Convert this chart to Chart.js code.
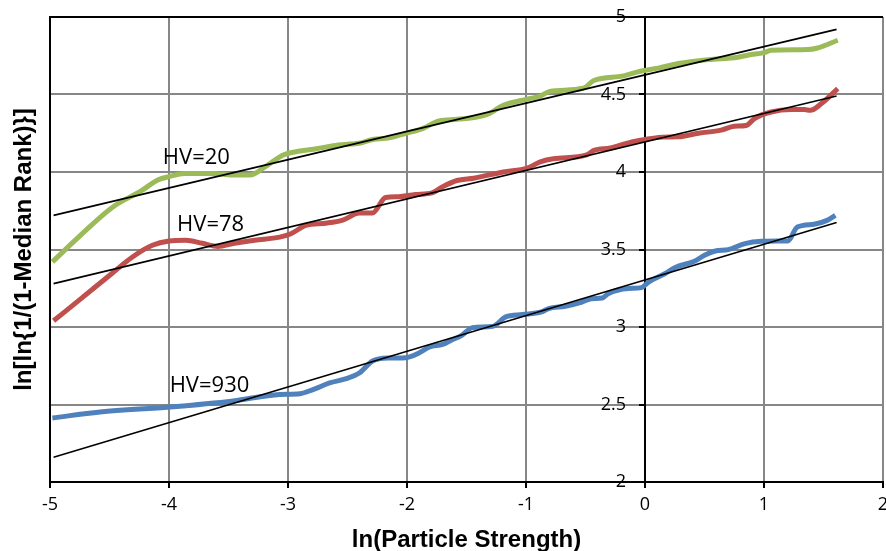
<!DOCTYPE html>
<html>
<head>
<meta charset="utf-8">
<script src="https://cdn.jsdelivr.net/npm/chart.js@4.4.1/dist/chart.umd.min.js"></script>
<style>
  html, body { margin: 0; padding: 0; background: #fff; }
  #wrap { width: 886px; height: 551px; }
</style>
</head>
<body>
<div id="wrap"><canvas id="weibull"></canvas></div>
<script>
// AXIS TICKS
const xTicks = [-5, -4, -3, -2, -1, 0, 1, 2];
const yTicks = [2, 2.5, 3, 3.5, 4, 4.5, 5];
const yTickLabels = ['2', '2.5', '3', '3.5', '4', '4.5', '5'];

// HV=20 (GREEN)
const greenX = [-4.98, -4.76, -4.48, -4.23, -4.09, -4.0, -3.87, -3.64, -3.47, -3.32, -3.18, -3.04, -2.90, -2.76, -2.62, -2.48, -2.40, -2.29, -2.15, -2.01, -1.87, -1.73, -1.58, -1.33, -1.19, -0.99, -0.88, -0.80, -0.52, -0.43, -0.18, -0.04, 0.11, 0.28, 0.53, 0.78, 0.87, 1.00, 1.06, 1.37, 1.45, 1.62];
const greenY = [3.42, 3.58, 3.77, 3.88, 3.95, 3.97, 3.99, 3.99, 3.98, 3.98, 4.04, 4.11, 4.135, 4.15, 4.17, 4.18, 4.185, 4.21, 4.22, 4.25, 4.28, 4.33, 4.34, 4.37, 4.43, 4.47, 4.49, 4.52, 4.54, 4.59, 4.62, 4.65, 4.67, 4.70, 4.725, 4.74, 4.755, 4.77, 4.785, 4.79, 4.80, 4.85];

// HV=78 (RED)
const redX = [-4.97, -4.76, -4.48, -4.31, -4.14, -4.0, -3.86, -3.72, -3.59, -3.45, -3.28, -3.07, -2.98, -2.85, -2.68, -2.54, -2.40, -2.29, -2.18, -2.07, -1.93, -1.79, -1.70, -1.58, -1.44, -1.19, -0.99, -0.88, -0.77, -0.49, -0.43, -0.29, -0.18, -0.04, 0.15, 0.28, 0.45, 0.64, 0.75, 0.85, 0.92, 1.06, 1.23, 1.34, 1.39, 1.48, 1.62];
const redY = [3.04, 3.17, 3.345, 3.45, 3.527, 3.555, 3.56, 3.54, 3.52, 3.54, 3.56, 3.58, 3.60, 3.655, 3.67, 3.69, 3.735, 3.735, 3.835, 3.84, 3.855, 3.865, 3.905, 3.945, 3.96, 4.0, 4.025, 4.065, 4.085, 4.11, 4.14, 4.155, 4.18, 4.205, 4.225, 4.227, 4.25, 4.27, 4.295, 4.30, 4.345, 4.387, 4.403, 4.403, 4.398, 4.44, 4.538];

// HV=930 (BLUE)
const blueX = [-4.98, -4.58, -3.99, -3.46, -3.07, -2.90, -2.79, -2.65, -2.51, -2.40, -2.29, -2.15, -2.01, -1.90, -1.81, -1.70, -1.62, -1.54, -1.45, -1.28, -1.17, -1.03, -0.87, -0.81, -0.67, -0.53, -0.45, -0.36, -0.31, -0.14, -0.03, 0.03, 0.17, 0.25, 0.42, 0.50, 0.59, 0.70, 0.84, 0.98, 1.12, 1.20, 1.28, 1.42, 1.53, 1.60];
const blueY = [2.413, 2.452, 2.484, 2.523, 2.565, 2.57, 2.596, 2.639, 2.667, 2.703, 2.781, 2.80, 2.802, 2.832, 2.871, 2.888, 2.918, 2.946, 2.996, 3.004, 3.065, 3.08, 3.097, 3.119, 3.134, 3.161, 3.183, 3.187, 3.215, 3.248, 3.254, 3.29, 3.345, 3.383, 3.426, 3.463, 3.49, 3.499, 3.538, 3.553, 3.555, 3.555, 3.645, 3.663, 3.688, 3.72];

// LINEAR FITS
const fitX = [-4.97, 1.61];
const fitGreen = [3.72, 4.92];
const fitRed = [3.28, 4.49];
const fitBlue = [2.16, 3.674];

// CURVE LABELS
const labelText = ['HV=20', 'HV=78', 'HV=930'];
const labelX = [-3.77, -3.65, -3.66];
const labelY = [4.095, 3.663, 2.624];

const xTitle = 'ln(Particle Strength)';
const yTitle = 'ln[ln{1/(1-Median Rank)}]';

const pts = (xs, ys) => xs.map((x, i) => ({ x: x, y: ys[i] }));

function curve(label, xs, ys, color) {
  return {
    label: label,
    data: pts(xs, ys),
    showLine: true,
    borderColor: color,
    borderWidth: 5,
    pointRadius: 0,
    cubicInterpolationMode: 'monotone',
    order: 2,
  };
}

function fitLine(label, ys) {
  return {
    label: label,
    data: pts(fitX, ys),
    showLine: true,
    borderColor: '#000',
    borderWidth: 1.6,
    pointRadius: 0,
    order: 1,
  };
}

// FRAME, Y TICK LABELS, CURVE LABELS AND AXIS TITLES
const extras = {
  id: 'extras',
  beforeDatasetsDraw(chart) {
    const { ctx, chartArea: a } = chart;
    ctx.save();
    ctx.strokeStyle = '#000';
    ctx.lineWidth = 2;
    ctx.beginPath();
    ctx.moveTo(a.left, a.bottom);
    ctx.lineTo(a.left, a.top);
    ctx.lineTo(a.right, a.top);
    ctx.stroke();
    ctx.restore();
  },
  afterDraw(chart) {
    const { ctx, chartArea: a, scales } = chart;
    ctx.save();
    ctx.fillStyle = '#000';

    // y tick labels sit left of the y axis, which crosses at x = 0
    ctx.font = '18px "Open Sans"';
    ctx.textAlign = 'right';
    ctx.textBaseline = 'middle';
    const axisX = scales.x.getPixelForValue(0);
    yTicks.forEach((v, i) => {
      ctx.fillText(yTickLabels[i], axisX - 19, scales.y.getPixelForValue(v));
    });

    ctx.font = '22px "Open Sans"';
    ctx.textAlign = 'center';
    labelText.forEach((t, i) => {
      ctx.fillText(t, scales.x.getPixelForValue(labelX[i]), scales.y.getPixelForValue(labelY[i]));
    });

    ctx.font = 'bold 24px "Liberation Sans"';
    ctx.fillText(xTitle, (a.left + a.right) / 2, 540);
    ctx.translate(24, (a.top + a.bottom) / 2);
    ctx.rotate(-Math.PI / 2);
    ctx.fillText(yTitle, 0, 0);
    ctx.restore();
  },
};

const tickFont = { family: '"Open Sans"', size: 18 };

new Chart(document.getElementById('weibull'), {
  type: 'scatter',
  data: {
    datasets: [
      curve('HV=20', greenX, greenY, '#9BBB59'),
      curve('HV=78', redX, redY, '#C0504D'),
      curve('HV=930', blueX, blueY, '#4F81BD'),
      fitLine('Fit HV=20', fitGreen),
      fitLine('Fit HV=78', fitRed),
      fitLine('Fit HV=930', fitBlue),
    ],
  },
  options: {
    responsive: true,
    maintainAspectRatio: false,
    animation: false,
    layout: { padding: { left: 50, top: 17, right: 3, bottom: 0 } },
    plugins: {
      legend: { display: false },
      tooltip: { enabled: false },
    },
    scales: {
      x: {
        type: 'linear',
        min: -5,
        max: 2,
        afterBuildTicks: (s) => { s.ticks = xTicks.map((v) => ({ value: v })); },
        afterFit: (s) => { s.height = 69; s.paddingRight = 0; s.paddingLeft = 0; },
        ticks: { font: tickFont, color: '#000', padding: 6 },
        grid: { color: '#878787', lineWidth: 2, tickColor: '#000', tickLength: 6 },
        border: { color: '#000', width: 2 },
      },
      y: {
        type: 'linear',
        position: { x: 0 },
        min: 2,
        max: 5,
        afterBuildTicks: (s) => { s.ticks = yTicks.map((v) => ({ value: v })); },
        ticks: { display: false },
        grid: { color: '#878787', lineWidth: 2, tickColor: '#000', tickLength: 5 },
        border: { color: '#000', width: 2 },
      },
    },
  },
  plugins: [extras],
});
</script>
</body>
</html>
